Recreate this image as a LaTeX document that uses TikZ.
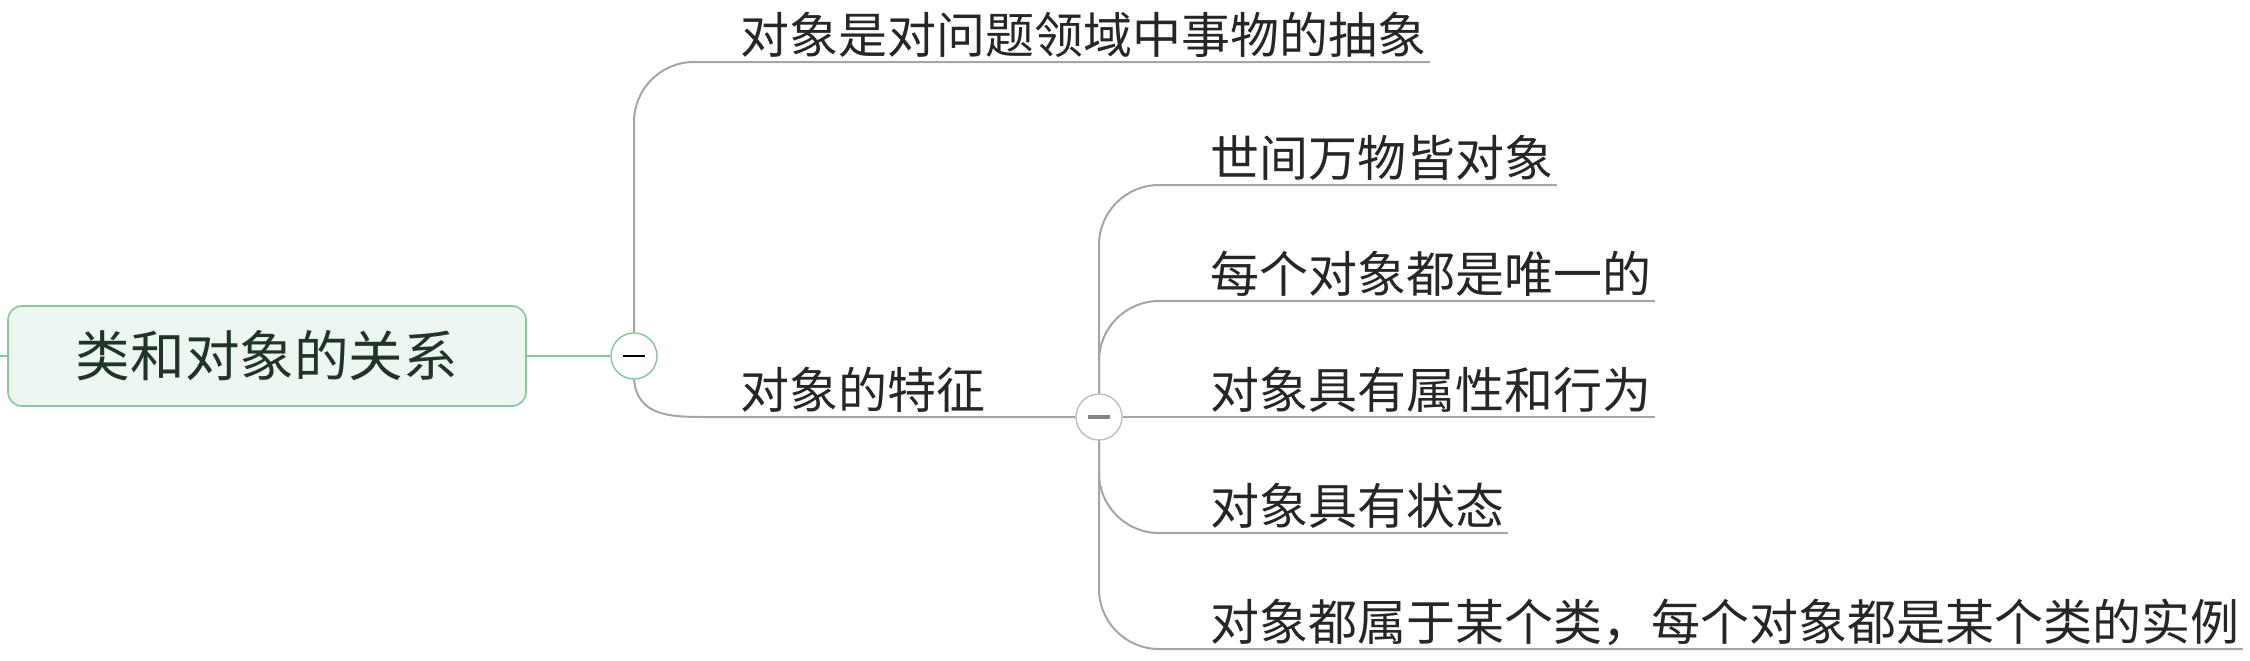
\documentclass[tikz,border=0pt]{standalone}
\usepackage{fontspec}
\newfontfamily\cjk{Noto Sans CJK SC}
\usepackage{xcolor}
\usetikzlibrary{positioning}
\definecolor{branch}{RGB}{165,165,165}
\definecolor{foldgray}{RGB}{190,190,190}
\definecolor{rootline}{RGB}{130,200,155}
\definecolor{rootfill}{RGB}{237,246,240}
\definecolor{roottext}{RGB}{32,52,40}
\tikzset{
  rootbox/.style={draw=rootline,fill=rootfill,line width=0.8pt,rounded corners=7pt,
    minimum width=259pt,minimum height=50pt,text=roottext,
    font=\cjk\fontsize{27.3}{32}\selectfont},
  topic/.style={anchor=south west,inner xsep=1.5pt,inner ysep=2pt,text depth=0.2em,
    text=black!85,font=\cjk\fontsize{24.5}{29}\selectfont},
  fold/.style={circle,draw=#1,fill=white,line width=0.7pt,minimum size=23pt,inner sep=0pt},
  minus/.style={path picture={\draw[#1] (path picture bounding box.center)
    ++(-5.5pt,0) -- ++(11pt,0);}},
  link/.style={branch,line width=1pt,rounded corners=30pt},
}
\begin{document}
\begin{tikzpicture}[x=0.5pt,y=-0.5pt]
  \useasboundingbox (0,0) rectangle (2250,660);
  % central topic
  \node[rootbox] (root) at (267,356) {类和对象的关系};
  \coordinate (stub) at (0,356);
  \node[fold=rootline,minus={black,line width=1pt}] (fold1) at (634,356) {};
  \draw[rootline,line width=1pt] (stub) -- (root.west);
  \draw[rootline,line width=1pt] (root.east) -- (fold1.west);
  % main branches
  \node[topic] (def) at (737,62) {对象是对问题领域中事物的抽象};
  \node[topic] (feat) at (737,417) {对象的特征};
  \node[fold=foldgray,minus={branch!80!black,line width=1.6pt}] (fold2) at (1099,417) {};
  \coordinate (bend) at (712,417);
  \draw[link] (fold1.north) |- (def.south east);
  \draw[branch,line width=1pt] (fold1.south) .. controls +(4,38) and +(-40,0) .. (bend) -- (fold2.west);
  % sub topics
  \node[topic] (c1) at (1207,185) {世间万物皆对象};
  \node[topic] (c2) at (1207,301) {每个对象都是唯一的};
  \node[topic] (c3) at (1207,417) {对象具有属性和行为};
  \node[topic] (c4) at (1207,533) {对象具有状态};
  \node[topic] (c5) at (1207,649) {对象都属于某个类，每个对象都是某个类的实例};
  \draw[link] (fold2.north) |- (c1.south east);
  \draw[link] (fold2.north) |- (c2.south east);
  \draw[link] (fold2.east) -- (c3.south east);
  \draw[link] (fold2.south) |- (c4.south east);
  \draw[link] (fold2.south) |- (c5.south east);
\end{tikzpicture}
\end{document}
